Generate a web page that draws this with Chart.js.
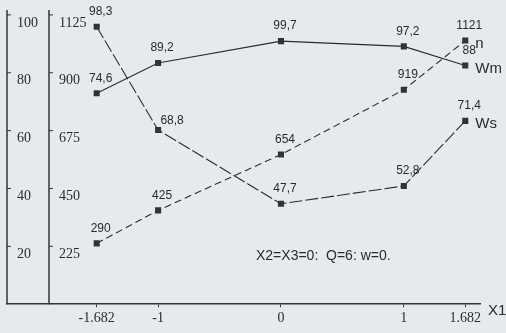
<!DOCTYPE html>
<html>
<head>
<meta charset="utf-8">
<script src="https://cdn.jsdelivr.net/npm/chart.js@4"></script>
<style>
  html, body { margin: 0; padding: 0; background: #e7e9ec; }
  #wrap { width: 506px; height: 333px; position: relative; }
</style>
</head>
<body>
<div id="wrap"><canvas id="chart"></canvas></div>
<script>
// Levels of X1 and where each one sits on the drawn (non-uniform) axis
const xLevels = ['-1.682', '-1', '0', '1', '1.682'];
const xPos    = [-1.5, -1, 0, 1, 1.5];

const nValues  = [290, 425, 654, 919, 1121];
const wmValues = [74.6, 89.2, 99.7, 97.2, 88];
const wsValues = [98.3, 68.8, 47.7, 52.8, 71.4];

const leftTicks  = [20, 40, 60, 80, 100];
const rightTicks = [225, 450, 675, 900, 1125];

const note = 'X2=X3=0:  Q=6: w=0.';

const INK   = '#2b2b2b';
const SANS  = '"Liberation Sans", Arial, sans-serif';
const SERIF = '"Liberation Serif", "Times New Roman", serif';

const toPts = vals => vals.map((v, i) => ({ x: xPos[i], y: v }));
const fmt = v => String(v).replace('.', ',');

function series(label, vals, axis, dash) {
  return {
    label, data: toPts(vals), yAxisID: axis,
    borderColor: INK, borderWidth: 1.1, borderDash: dash,
    pointStyle: 'rect', pointRadius: 4.3,
    pointBackgroundColor: '#333', pointBorderColor: '#333', pointBorderWidth: 0,
    tension: 0
  };
}

// axes, value labels and series names
const decorate = {
  id: 'decorate',
  afterDatasetsDraw(chart) {
    const { ctx, chartArea: a, scales } = chart;
    ctx.save();
    ctx.strokeStyle = '#333';
    ctx.fillStyle = INK;

    const axis = (x, scale, ticks) => {
      ctx.lineWidth = 1.5;
      ctx.beginPath(); ctx.moveTo(x, a.top); ctx.lineTo(x, a.bottom); ctx.stroke();
      ctx.font = '14px ' + SERIF;
      ctx.textAlign = 'left'; ctx.textBaseline = 'middle';
      ticks.forEach(t => {
        const y = scale.getPixelForValue(t);
        ctx.lineWidth = 1;
        ctx.beginPath(); ctx.moveTo(x, y); ctx.lineTo(x + 4, y); ctx.stroke();
        ctx.fillText(String(t), x + 10, y + 8);
      });
    };
    axis(a.left, scales.yL, leftTicks);
    axis(a.left + 42, scales.yR, rightTicks);

    // value labels
    ctx.font = '12px ' + SANS;
    ctx.textAlign = 'center'; ctx.textBaseline = 'middle';
    chart.data.datasets.forEach((ds, di) => {
      const meta = chart.getDatasetMeta(di);
      meta.data.forEach((pt, i) => {
        let dx = 4, dy = -15;
        if (ds.label === 'Ws' && i === 1) { dx = 14; dy = -9; }
        ctx.fillText(fmt(ds.data[i].y), pt.x + dx, pt.y + dy);
      });
      const last = meta.data[meta.data.length - 1];
      ctx.save();
      ctx.font = '15px ' + SANS;
      ctx.textAlign = 'left';
      ctx.fillText(ds.label, last.x + 10, last.y + 3);
      ctx.restore();
    });

    ctx.font = '14px ' + SANS;
    ctx.textAlign = 'left';
    ctx.fillText(note, 256, 256);
    ctx.font = '15px ' + SANS;
    ctx.fillText('X1', a.right + 8, a.bottom + 7);
    ctx.restore();
  }
};

new Chart(document.getElementById('chart'), {
  type: 'line',
  data: {
    datasets: [
      series('n',  nValues,  'yN',  [7, 4]),
      series('Wm', wmValues, 'yWm', []),
      series('Ws', wsValues, 'yWs', [13, 3])
    ]
  },
  options: {
    responsive: true, maintainAspectRatio: false, animation: false,
    layout: { padding: { left: 7, right: 26, top: 10, bottom: 3 } },
    plugins: { legend: { display: false }, tooltip: { enabled: false } },
    scales: {
      x: {
        type: 'linear', min: -2.23, max: 1.62,
        afterBuildTicks: s => { s.ticks = xPos.map(v => ({ value: v })); },
        ticks: {
          autoSkip: false, maxRotation: 0, padding: 3, color: INK,
          font: { family: SERIF, size: 14 },
          callback: v => xLevels[xPos.indexOf(v)]
        },
        grid: { drawOnChartArea: false, tickLength: 3, color: '#333' },
        border: { color: '#333', width: 1.5 }
      },
      yN:  { display: false, min: 40.7, max: 1246 },
      yWs: { display: false, min: 19,   max: 103.1 },
      yWm: { display: false, min: -26.9, max: 114.7 },
      yL:  { display: false, min: 0, max: 101.7 },
      yR:  { display: false, min: 0, max: 1144 }
    }
  },
  plugins: [decorate]
});
</script>
</body>
</html>
